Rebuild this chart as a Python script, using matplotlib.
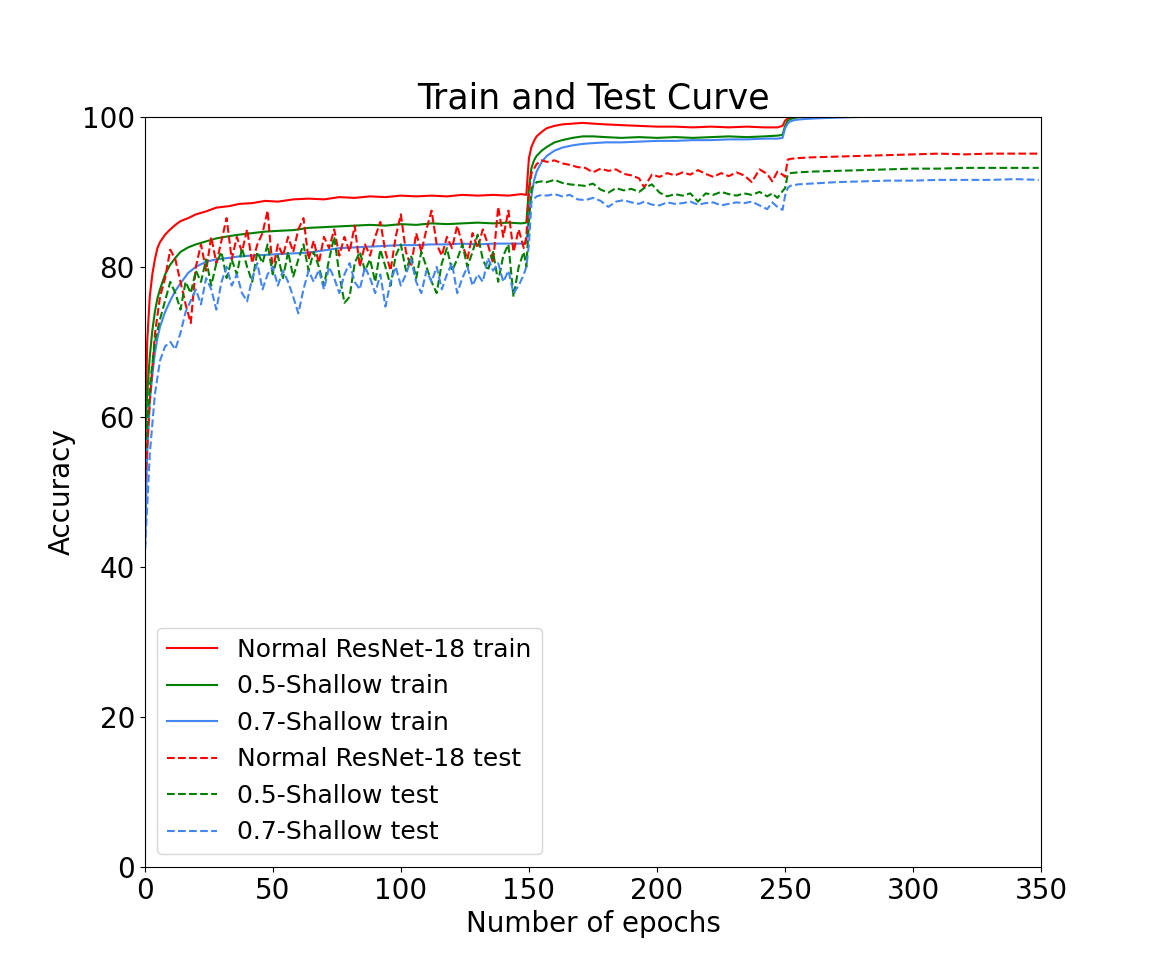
import matplotlib
matplotlib.use('Agg')
from matplotlib import pyplot as plt

train_epochs = [0, 1, 2, 3, 4, 5, 6, 8, 10, 12, 14, 17, 20, 24, 28, 33, 37, 42, 47, 52,
                58, 64, 70, 76, 82, 88, 94, 100, 106, 112, 118, 124, 130, 136, 142, 147, 149,
                150, 151, 152, 153, 155, 157, 160, 163, 167, 171, 175, 180, 186, 193, 200,
                207, 214, 221, 228, 235, 242, 247, 249, 250, 251, 252, 254, 257, 262, 270,
                280, 300, 320, 349]

normal_train = [52, 70, 76, 79, 81, 82.5, 83.3, 84.3, 85, 85.6, 86.1, 86.5, 87, 87.4, 87.9, 88.1,
                88.4, 88.5, 88.8, 88.7, 89.0, 89.1, 89.0, 89.3, 89.2, 89.4, 89.3, 89.5, 89.4,
                89.5, 89.4, 89.6, 89.5, 89.6, 89.5, 89.7, 89.6,
                94.5, 96, 96.8, 97.4, 98.0, 98.5, 98.8, 99.0, 99.1, 99.2, 99.1, 99.0, 98.9,
                98.8, 98.7, 98.7, 98.6, 98.7, 98.6, 98.7, 98.6, 98.6, 98.8,
                99.5, 99.8, 99.9, 100, 100, 100, 100, 100, 100, 100, 100]

shallow05_train = [55, 63, 68, 71.5, 74, 75.8, 77, 79, 80.3, 81.2, 82, 82.6, 83, 83.4, 83.8, 84.1,
                   84.3, 84.5, 84.7, 84.8, 84.9, 85.2, 85.3, 85.4, 85.5, 85.6, 85.5, 85.7, 85.6,
                   85.8, 85.7, 85.8, 85.9, 85.8, 85.9, 85.8, 85.9,
                   90.5, 93.2, 94.2, 94.8, 95.5, 96.0, 96.6, 96.9, 97.2, 97.4, 97.4, 97.3, 97.2,
                   97.3, 97.2, 97.3, 97.2, 97.3, 97.4, 97.3, 97.4, 97.5, 97.6,
                   98.8, 99.5, 99.7, 99.9, 100, 100, 100, 100, 100, 100, 100]

shallow07_train = [40, 55, 62, 65.5, 68.5, 70.5, 72, 74, 75.5, 76.8, 77.8, 79.2, 80, 80.7, 81, 81.2,
                   81.4, 81.5, 81.6, 81.7, 81.8, 81.9, 82.2, 82.5, 82.6, 82.7, 82.8, 82.9, 82.9,
                   83.0, 83.0, 83.1, 83.0, 83.1, 83.1, 83.1, 83.2,
                   87, 89.5, 91.5, 92.7, 94.0, 94.8, 95.5, 95.9, 96.2, 96.4, 96.5, 96.6, 96.6,
                   96.7, 96.8, 96.8, 96.9, 96.9, 97.0, 97.0, 97.1, 97.1, 97.2,
                   98.5, 99.1, 99.4, 99.6, 99.7, 99.8, 99.9, 100, 100, 100, 100]

test_epochs = list(range(0, 149, 2)) + [149,
               150, 151, 153, 155, 157, 160, 163, 166, 169, 172, 175, 178, 181, 184, 187, 190,
               193, 195, 198, 201, 204, 207, 210, 213, 216, 219, 222, 225, 228, 231, 234, 237,
               240, 243, 245, 247, 249,
               250, 251, 252, 255, 260, 270, 280, 290, 300, 310, 320, 330, 340, 349]

normal_test = [50, 62, 71, 76, 78.5, 82.3, 81, 78, 75, 72.5, 80, 83, 79.5, 84, 80.5, 83.5, 86.5,
               81, 84, 82, 85, 80.5, 83, 84.5, 87.5, 79.5, 83, 81.5, 84, 82, 85, 86.5, 81, 83.5,
               80.5, 84, 82.5, 85, 81.5, 84, 82, 85.5, 80, 83, 81.5, 84, 86, 82, 79.5, 84, 87,
               82, 80, 84.5, 82, 85, 87.5, 83, 81.5, 84, 82.5, 85.5, 83, 81, 84.5, 82.5, 85, 83,
               80.5, 88, 84, 87.5, 82, 85, 82.5, 84,
               90, 92.5, 93.7, 94.2, 94.0, 94.2, 93.8, 93.6, 93.3, 93.2, 92.6, 93.1, 92.8, 93.0,
               92.4, 92.2, 91.8, 90.6, 92.3, 92.0, 92.5, 92.2, 92.6, 92.3, 92.9, 92.4, 92.0,
               92.5, 92.1, 92.6, 92.2, 91.3, 93.0, 92.4, 91.4, 92.7, 92.3,
               92.0, 94.3, 94.4, 94.5, 94.6, 94.7, 94.8, 94.9, 95.0, 95.1, 95.0, 95.1, 95.1, 95.1]

shallow05_test = [54, 64, 70, 73, 75.5, 78, 76.5, 74.3, 78, 76.5, 79.5, 78, 81, 77.5, 80.5, 82,
                  78.5, 81, 79, 82.5, 80, 78, 82, 80.5, 83, 79, 81.5, 78.5, 82, 78.7, 81, 83,
                  79.5, 82, 80, 77.5, 81, 84, 79, 75.2, 76, 80.5, 82, 79.5, 81, 78, 82.3, 80,
                  77.5, 81.5, 83, 79.5, 81.5, 78.5, 82, 80, 78, 76.5, 80.5, 82.5, 79.5, 81, 83,
                  80, 82, 84.3, 81, 79.5, 82, 78, 81.5, 83, 76, 80, 82, 80,
                  86, 90.5, 91.3, 91.4, 91.3, 91.6, 91.2, 91.0, 90.9, 90.8, 91.1, 90.3, 89.9,
                  90.5, 90.2, 90.4, 90.0, 90.5, 91.0, 89.9, 89.4, 89.7, 89.5, 89.8, 88.7, 89.8,
                  89.6, 90.0, 89.7, 89.5, 89.8, 89.6, 90.0, 89.4, 89.8, 89.2, 90.1,
                  90.5, 92.3, 92.5, 92.6, 92.7, 92.8, 92.9, 93.0, 93.1, 93.1, 93.2, 93.2, 93.2, 93.2]

shallow07_test = [41, 55, 63, 67.5, 69.4, 70, 69, 71.2, 74, 75.5, 77, 75, 78.5, 77, 74.3, 78, 80,
                  77.5, 79, 76.5, 75.4, 78.5, 80.5, 77, 79, 80, 77.5, 79.5, 78, 76, 73.8, 77,
                  79.5, 78, 79.6, 77, 80, 78.5, 76.5, 79, 80.5, 78, 77, 80, 78.5, 76.5, 79, 74.7,
                  78, 80, 77.5, 79, 81, 78, 76.5, 79.5, 78, 80, 77, 79, 80.5, 76.5, 78.5, 80,
                  77.5, 79, 78, 81.2, 79.5, 80.5, 78, 79.5, 76.5, 77.5, 79, 80,
                  83, 88.7, 89.4, 89.6, 89.5, 89.7, 89.4, 89.6, 89.0, 88.9, 89.2, 88.8, 88.0,
                  88.7, 88.9, 88.6, 88.4, 88.7, 88.3, 88.2, 88.6, 88.4, 88.5, 88.7, 88.3, 88.5,
                  88.6, 88.2, 88.4, 88.6, 88.5, 88.7, 88.2, 87.7, 88.6, 88.0, 87.6,
                  89.5, 90.5, 90.8, 91.0, 91.1, 91.3, 91.4, 91.5, 91.5, 91.6, 91.6, 91.6, 91.7, 91.6]

red = 'red'
green = 'green'
blue = '#4285F4'

fig = plt.figure(figsize=(11.57, 9.74), dpi=100)
plt.plot(train_epochs, normal_train, color=red, linestyle='-', label='Normal ResNet-18 train')
plt.plot(train_epochs, shallow05_train, color=green, linestyle='-', label='0.5-Shallow train')
plt.plot(train_epochs, shallow07_train, color=blue, linestyle='-', label='0.7-Shallow train')
plt.plot(test_epochs, normal_test, color=red, linestyle='--', label='Normal ResNet-18 test')
plt.plot(test_epochs, shallow05_test, color=green, linestyle='--', label='0.5-Shallow test')
plt.plot(test_epochs, shallow07_test, color=blue, linestyle='--', label='0.7-Shallow test')

plt.xlim(0, 350)
plt.ylim(0, 100)
plt.xticks(fontsize=20)
plt.yticks(fontsize=20)
plt.xlabel('Number of epochs', fontsize=20)
plt.ylabel('Accuracy', fontsize=20)
plt.title('Train and Test Curve', fontsize=25)
plt.legend(loc='lower left', fontsize=18)

plt.savefig('out.png', dpi=100)
